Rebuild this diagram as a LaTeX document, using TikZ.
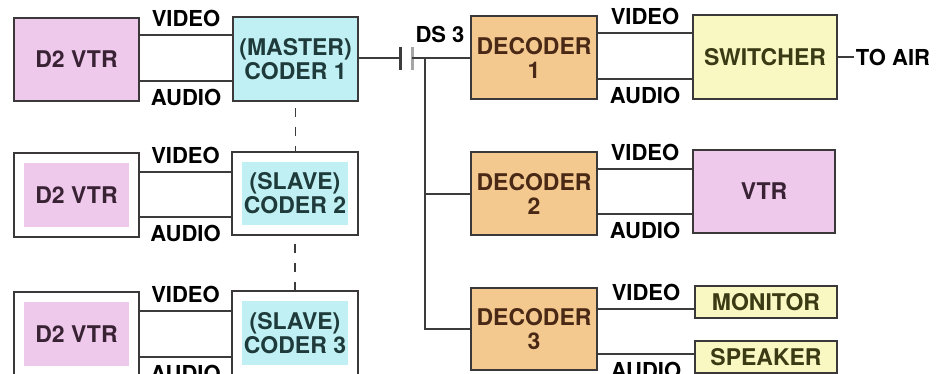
\documentclass[tikz,border=0pt]{standalone}
\usepackage{fontspec}
\setmainfont{TeX Gyre Heros}
\usetikzlibrary{positioning}

\definecolor{rosa}{HTML}{EEC9EC}
\definecolor{ciano}{HTML}{C0F0F3}
\definecolor{laranja}{HTML}{F3C98F}
\definecolor{amarelo}{HTML}{F9F7C2}
\definecolor{borda}{HTML}{3A3838}
\definecolor{fiocor}{HTML}{3C3C3C}
\definecolor{txtvtr}{HTML}{3A2235}
\definecolor{txtcoder}{HTML}{1E3A3A}
\definecolor{txtdec}{HTML}{4A2816}
\definecolor{txtsai}{HTML}{3A3A14}

\begin{document}
\begin{tikzpicture}[x=1pt, y=-1pt]

    % --------------------
    % Estilos
    % --------------------
    \tikzset{
        caixa/.style={draw=borda, line width=1.5pt, align=center, inner sep=0pt,
            font=\fontsize{23}{24}\selectfont\bfseries},
        vtr/.style={caixa, fill=rosa, text=txtvtr},
        coder/.style={caixa, fill=ciano, text=txtcoder},
        decoder/.style={caixa, fill=laranja, text=txtdec,
            minimum width=126pt, minimum height=83pt},
        saida/.style={caixa, fill=amarelo, text=txtsai},
        escravo/.style={caixa, fill=white, path picture={
            \fill[#1] ([shift={(10pt,10pt)}]path picture bounding box.south west)
            rectangle ([shift={(-10pt,-10pt)}]path picture bounding box.north east);}},
        fio/.style={draw=fiocor, line width=2pt},
        rot/.style={font=\fontsize{22}{24}\selectfont\bfseries, inner sep=0pt}
    }

    \useasboundingbox (0,0) rectangle (945,373);
    \clip (0,0) rectangle (945,373);

    % --------------------
    % Lado dos codificadores
    % --------------------
    \node[vtr, minimum width=125pt, minimum height=83pt] (vtrA) at (76.5,59.5) {D2 VTR};
    \node[coder, minimum width=125pt, minimum height=84pt] (coderA) at (295.5,59) {(MASTER)\\CODER 1};

    \node[escravo=rosa, text=txtvtr, minimum width=125pt, minimum height=84pt] (vtrB) at (76.5,195) {D2 VTR};
    \node[escravo=ciano, text=txtcoder, minimum width=126pt, minimum height=83pt] (coderB) at (295,193.5) {(SLAVE)\\CODER 2};

    \node[escravo=rosa, text=txtvtr, minimum width=125pt, minimum height=84pt] (vtrC) at (76.5,334) {D2 VTR};
    \node[escravo=ciano, text=txtcoder, minimum width=126pt, minimum height=84pt] (coderC) at (295,333) {(SLAVE)\\CODER 3};

    \draw[fio] ([yshift=24.5pt]vtrA.east) -- ([yshift=24.5pt]vtrA.east -| coderA.west) node[rot, midway, above=7pt] {VIDEO};
    \draw[fio] ([yshift=-21.5pt]vtrA.east) -- ([yshift=-21.5pt]vtrA.east -| coderA.west) node[rot, midway, below=7pt] {AUDIO};

    \draw[fio] ([yshift=23pt]vtrB.east) -- ([yshift=23pt]vtrB.east -| coderB.west) node[rot, midway, above=7pt] {VIDEO};
    \draw[fio] ([yshift=-22pt]vtrB.east) -- ([yshift=-22pt]vtrB.east -| coderB.west) node[rot, midway, below=7pt] {AUDIO};

    \draw[fio] ([yshift=23pt]vtrC.east) -- ([yshift=23pt]vtrC.east -| coderC.west) node[rot, midway, above=7pt] {VIDEO};
    \draw[fio] ([yshift=-23pt]vtrC.east) -- ([yshift=-23pt]vtrC.east -| coderC.west) node[rot, midway, below=7pt] {AUDIO};

    % sincronismo mestre / escravos
    \draw[fio, line width=1.6pt, dash pattern=on 9pt off 10pt] (coderA.south) ++(0,6) -- (coderA.south |- coderB.north);
    \draw[fio, line width=1.6pt, dash pattern=on 9pt off 10pt] (coderB.south) ++(0,8) -- (coderB.south |- coderC.north);

    % --------------------
    % Enlace DS 3
    % --------------------
    \coordinate (capL) at (400,58);
    \coordinate (capR) at (412,58);
    \coordinate (bus) at (425,58);

    \node[decoder] (dec1) at (534,57.5) {DECODER\\1};
    \node[decoder] (dec2) at (534,193.5) {DECODER\\2};
    \node[decoder, minimum height=82pt] (dec3) at (534,329) {DECODER\\3};

    \draw[fio] (coderA.east |- capL) -- (capL);
    \draw[fio, line width=3pt] ([yshift=11.5pt]capL) -- ([yshift=-11.5pt]capL);
    \draw[fio, draw=gray!70, line width=3pt] ([yshift=11.5pt]capR) -- ([yshift=-11.5pt]capR);
    \draw[fio] (capR) -- (capR -| dec1.west);
    \node[rot] (ds) at (440,34) {DS 3};

    \draw[fio] (bus) |- (dec3.west);
    \draw[fio] (bus |- dec2.west) -- (dec2.west);

    % --------------------
    % Lado dos decodificadores
    % --------------------
    \node[saida, minimum width=144pt, minimum height=84pt] (sw) at (765,57) {SWITCHER};
    \node[vtr, minimum width=142pt, minimum height=83pt] (vtrD) at (764,191.5) {VTR};
    \node[saida, minimum width=142pt, minimum height=32pt] (mon) at (766,302) {MONITOR};
    \node[saida, minimum width=142pt, minimum height=32pt] (spk) at (766,357) {SPEAKER};

    \node[rot, inner sep=2pt, right=16pt of sw] (air) {TO AIR};
    \draw[fio] (sw.east) -- (air.west);

    \draw[fio] ([yshift=24.5pt]dec1.east) -- ([yshift=24.5pt]dec1.east -| sw.west) node[rot, midway, above=7pt] {VIDEO};
    \draw[fio] ([yshift=-21.5pt]dec1.east) -- ([yshift=-21.5pt]dec1.east -| sw.west) node[rot, midway, below=7pt] {AUDIO};

    \draw[fio] ([yshift=25pt]dec2.east) -- ([yshift=25pt]dec2.east -| vtrD.west) node[rot, midway, above=7pt] {VIDEO};
    \draw[fio] ([yshift=-20.5pt]dec2.east) -- ([yshift=-20.5pt]dec2.east -| vtrD.west) node[rot, midway, below=7pt] {AUDIO};

    \draw[fio] ([yshift=20pt]dec3.east) -- ([yshift=20pt]dec3.east -| mon.west) node[rot, midway, above=7pt] {VIDEO};
    \draw[fio] ([yshift=-25pt]dec3.east) -- ([yshift=-25pt]dec3.east -| spk.west) node[rot, midway, below=7pt] {AUDIO};

\end{tikzpicture}
\end{document}
